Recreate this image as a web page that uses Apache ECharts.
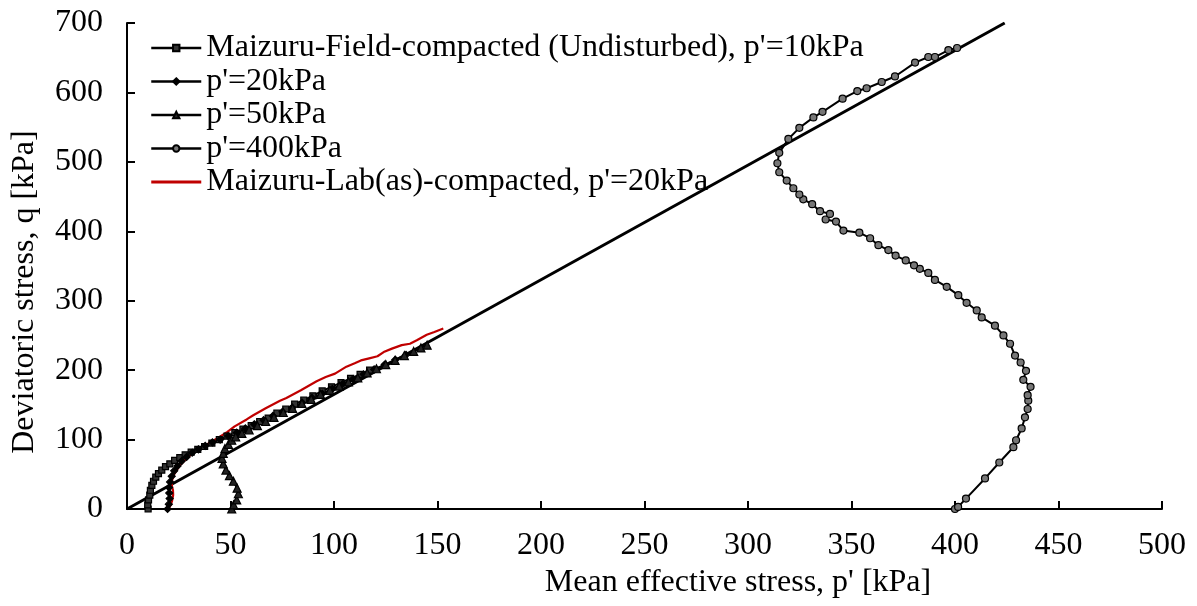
<!DOCTYPE html>
<html>
<head>
<meta charset="utf-8">
<script src="https://cdn.jsdelivr.net/npm/echarts@6/dist/echarts.min.js"></script>
<style>
  html, body { margin: 0; padding: 0; background: #fff; }
  #main { width: 1197px; height: 606px; }
</style>
</head>
<body>
<div id="main"></div>
<script>
// 各试验的 p'、q 数据
var p10 = [10.2, 10.0, 10.4, 11.0, 11.3, 12.0, 12.8, 13.9, 15.2, 16.8, 18.6, 20.7, 23.0, 25.5, 28.1, 31.0, 34.2, 37.5, 41.0, 44.6, 48.3, 52.1, 56.0, 60.0, 64.1, 68.2, 72.4, 76.7, 81.0, 85.4, 89.8, 94.3, 98.8, 103.4, 108.0, 112.6, 117.2];
var q10 = [0, 6, 13, 20, 27, 34, 40, 46, 51, 56, 61, 65, 70, 74, 78, 82, 86, 90, 95, 100, 105, 110, 115, 120, 126, 131, 138, 144, 151, 157, 163, 170, 176, 182, 188, 194, 200];

var p20 = [19.6, 20.2, 20.6, 20.4, 20.3, 20.8, 21.6, 22.8, 24.4, 26.4, 28.8, 31.5, 34.5, 37.8, 41.3, 45.0, 48.9, 53.0, 57.2, 61.5, 66.0, 70.5, 75.1, 79.8, 84.6, 89.4, 94.3, 99.2, 104.2, 109.2, 114.3, 119.4, 124.5, 129.6, 134.8];
var q20 = [0, 7, 15, 23, 31, 39, 47, 55, 62, 69, 75, 81, 86, 91, 96, 100, 105, 110, 116, 122, 128, 134, 140, 146, 153, 160, 166, 173, 180, 187, 194, 201, 208, 215, 222];

var p50 = [50.6, 51.5, 53.0, 53.8, 53.2, 51.4, 49.5, 47.8, 46.5, 45.9, 46.5, 47.3, 49.0, 50.6, 52.5, 55.5, 59.0, 63.0, 67.0, 71.0, 75.5, 80.0, 84.5, 89.0, 93.5, 98.0, 102.5, 107.0, 111.5, 116.0, 120.5, 125.0, 129.5, 134.0, 138.5, 142.0, 145.0];
var q50 = [0, 6, 13, 22, 30, 40, 48, 56, 65, 73, 80, 87, 93, 99, 104, 109, 114, 120, 126, 132, 139, 145, 152, 158, 165, 171, 177, 183, 189, 196, 202, 208, 214, 221, 227, 232, 236];

var p400 = [400.0, 401.5, 405.3, 414.5, 421.4, 428.2, 429.5, 432.2, 433.8, 435.1, 435.4, 435.1, 436.5, 433.0, 434.3, 431.7, 429.0, 426.6, 423.4, 419.3, 412.9, 410.5, 405.6, 401.6, 396.0, 390.3, 387.1, 383.0, 380.2, 376.2, 371.3, 367.8, 363.0, 359.0, 353.8, 346.1, 342.5, 337.5, 339.6, 334.8, 331.0, 326.7, 324.8, 321.9, 318.7, 315.1, 314.2, 315.1, 319.5, 324.8, 331.6, 336.0, 345.7, 352.8, 357.3, 364.6, 371.0, 380.7, 387.1, 390.3, 396.8, 401.0];
var q400 = [0, 3, 15, 44, 67, 89, 99, 116, 132, 144, 156, 164, 176, 186, 199, 211, 221, 238, 250, 264, 276, 286, 297, 308, 320, 330, 340, 346, 351, 358, 365, 373, 380, 390, 398, 401, 414, 417, 425, 429, 439, 446, 453, 462, 473, 485, 498, 513, 533, 549, 564, 572, 591, 602, 606, 615, 623, 643, 651, 651, 661, 664];

var pLab = [20.0, 21.0, 21.8, 22.3, 22.2, 21.7, 21.6, 22.1, 22.8, 24.0, 25.6, 27.8, 30.4, 33.5, 36.9, 40.8, 44.9, 48.5, 52.0, 57.8, 61.0, 67.0, 73.9, 77.0, 84.0, 91.6, 96.0, 100.5, 106.0, 110.0, 113.0, 117.0, 121.0, 124.0, 128.0, 132.7, 136.7, 140.0, 144.8, 148.5, 152.8];
var qLab = [0, 5, 12, 20, 27, 33, 39, 45, 50, 56, 63, 70, 77, 84, 90, 97, 104, 111, 119, 129, 135, 145, 156, 160, 171, 184, 190, 195, 205, 210, 214, 217, 220, 226, 231, 236, 238, 243, 251, 255, 260];

// 临界状态线
var pCSL = [0, 424];
var qCSL = [0, 700];

var names = [
  "Maizuru-Field-compacted (Undisturbed), p'=10kPa",
  "p'=20kPa",
  "p'=50kPa",
  "p'=400kPa",
  "Maizuru-Lab(as)-compacted, p'=20kPa"
];

function pairs(px, qy) {
  return px.map(function (v, i) { return [v, qy[i]]; });
}

var FONT = 'Liberation Serif';
var FS = 32;

function fieldSeries(name, px, qy, symbol, size, fill) {
  return {
    name: name,
    type: 'line',
    data: pairs(px, qy),
    symbol: symbol,
    symbolSize: size,
    showAllSymbol: true,
    lineStyle: { color: '#000', width: 2 },
    itemStyle: { color: fill, borderColor: '#000', borderWidth: 1.2 }
  };
}

var myChart = echarts.init(document.getElementById('main'));
myChart.setOption({
  animation: false,
  backgroundColor: '#fff',
  grid: { left: 127, right: 35, top: 23, bottom: 97 },
  legend: {
    data: names.slice(0, 4).concat([{ name: names[4], icon: 'path://M0,0h50v3h-50z' }]),
    orient: 'vertical',
    left: 145,
    top: 27,
    itemWidth: 50,
    itemHeight: 8,
    itemGap: 1.5,
    lineStyle: { width: 2.5 },
    textStyle: { fontFamily: FONT, fontSize: FS, color: '#000', lineHeight: 32 }
  },
  xAxis: {
    type: 'value',
    min: 0,
    max: 500,
    interval: 50,
    axisLine: { lineStyle: { color: '#000', width: 2 } },
    axisTick: { inside: true, length: 8, lineStyle: { color: '#000', width: 2 } },
    axisLabel: { color: '#000', fontFamily: FONT, fontSize: FS, margin: 21 },
    splitLine: { show: false }
  },
  yAxis: {
    type: 'value',
    min: 0,
    max: 700,
    interval: 100,
    axisLine: { show: true, lineStyle: { color: '#000', width: 2 } },
    axisTick: { show: true, inside: true, length: 8, lineStyle: { color: '#000', width: 2 } },
    axisLabel: { color: '#000', fontFamily: FONT, fontSize: FS, margin: 24 },
    splitLine: { show: false }
  },
  graphic: [
    {
      type: 'text',
      x: 738,
      y: 583,
      style: { text: "Mean effective stress, p' [kPa]", fontFamily: FONT, fontSize: FS, fill: '#000', align: 'center', verticalAlign: 'middle' }
    },
    {
      type: 'text',
      x: 25,
      y: 292,
      rotation: Math.PI / 2,
      style: { text: 'Deviatoric stress, q [kPa]', fontFamily: FONT, fontSize: FS, fill: '#000', align: 'center', verticalAlign: 'middle' }
    }
  ],
  series: [
    fieldSeries(names[0], p10, q10, 'rect', 6, '#333'),
    fieldSeries(names[1], p20, q20, 'diamond', 7, '#000'),
    fieldSeries(names[2], p50, q50, 'triangle', 8, '#222'),
    fieldSeries(names[3], p400, q400, 'circle', 7, '#777'),
    {
      name: names[4],
      type: 'line',
      data: pairs(pLab, qLab),
      symbol: 'none',
      lineStyle: { color: '#c00000', width: 2.2 },
      itemStyle: { color: '#c00000' }
    },
    {
      name: 'CSL',
      type: 'line',
      data: pairs(pCSL, qCSL),
      symbol: 'none',
      lineStyle: { color: '#000', width: 3 },
      z: 1
    }
  ]
});
</script>
</body>
</html>
